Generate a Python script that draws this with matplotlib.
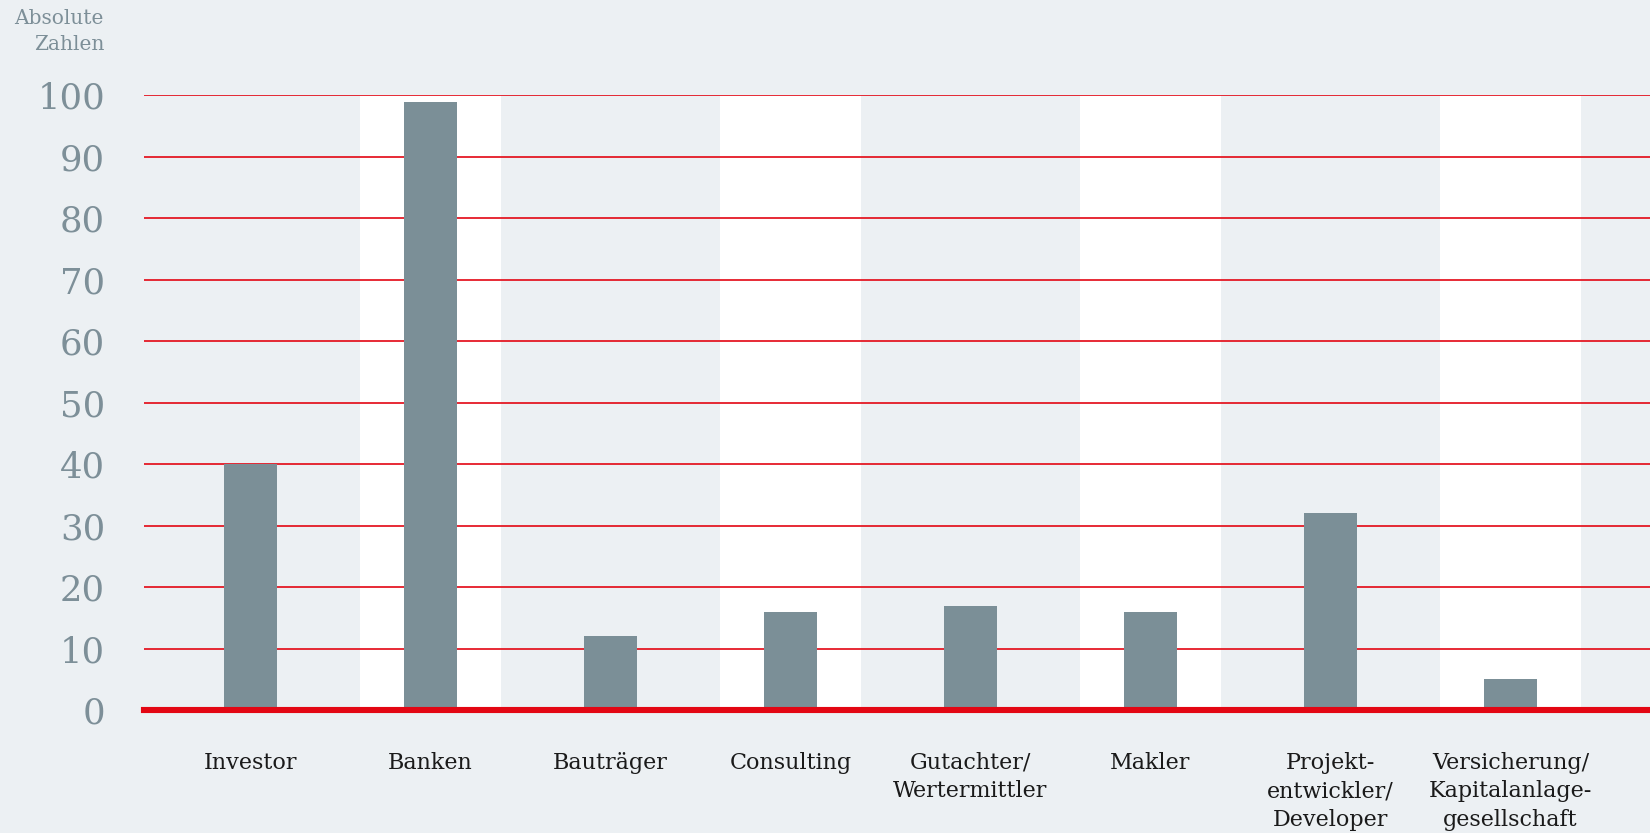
import matplotlib
matplotlib.use('Agg')
import matplotlib.pyplot as plt
import numpy as np

categories = ['Investor', 'Banken', 'Bauträger', 'Consulting',
              'Gutachter/\nWertermittler', 'Makler',
              'Projekt-\nentwickler/\nDeveloper',
              'Versicherung/\nKapitalanlage-\ngesellschaft']
values = [40, 99, 12, 16, 17, 16, 32, 5]
yticks = [0, 10, 20, 30, 40, 50, 60, 70, 80, 90, 100]

bg = '#ecf0f3'
bar_color = '#7b8f97'
red = '#e30613'
grey_txt = '#7d8f98'

plt.rcParams['font.family'] = ['DejaVu Serif']

fig = plt.figure(figsize=(16.5, 8.33), dpi=100)
fig.patch.set_facecolor(bg)
ax = fig.add_axes([0.0873, 0.1477, 0.9127, 0.7377])
ax.set_facecolor(bg)

x = np.arange(len(categories))

# white bands behind every second category
for i in x[1::2]:
    ax.axvspan(i - 0.39, i + 0.39, color='white', zorder=0, lw=0)

for t in yticks[1:]:
    ax.axhline(t, color=red, lw=1.2, zorder=1)

ax.bar(x, values, width=0.295, color=bar_color, zorder=2)
ax.axhline(0, color=red, lw=4.4, zorder=3, clip_on=False)

ax.set_xlim(-0.592, 7.775)
ax.set_ylim(0, 100)

for s in ax.spines.values():
    s.set_visible(False)

ax.set_yticks(yticks)
ax.set_yticklabels([str(t) for t in yticks], fontsize=25.5, color=grey_txt)
ax.tick_params(axis='y', length=0, pad=28)
for lab in ax.get_yticklabels():
    lab.set_va('center_baseline')

ax.set_xticks(x)
ax.set_xticklabels(categories, fontsize=16, color='#1a1a1a', linespacing=1.38,
                   va='top')
ax.tick_params(axis='x', length=0, pad=30)

fig.text(104 / 1650, 1 - 9 / 833, 'Absolute\nZahlen', ha='right', va='top',
         fontsize=14.5, color=grey_txt, linespacing=1.45)

fig.savefig('out.png', dpi=100, facecolor=bg)
